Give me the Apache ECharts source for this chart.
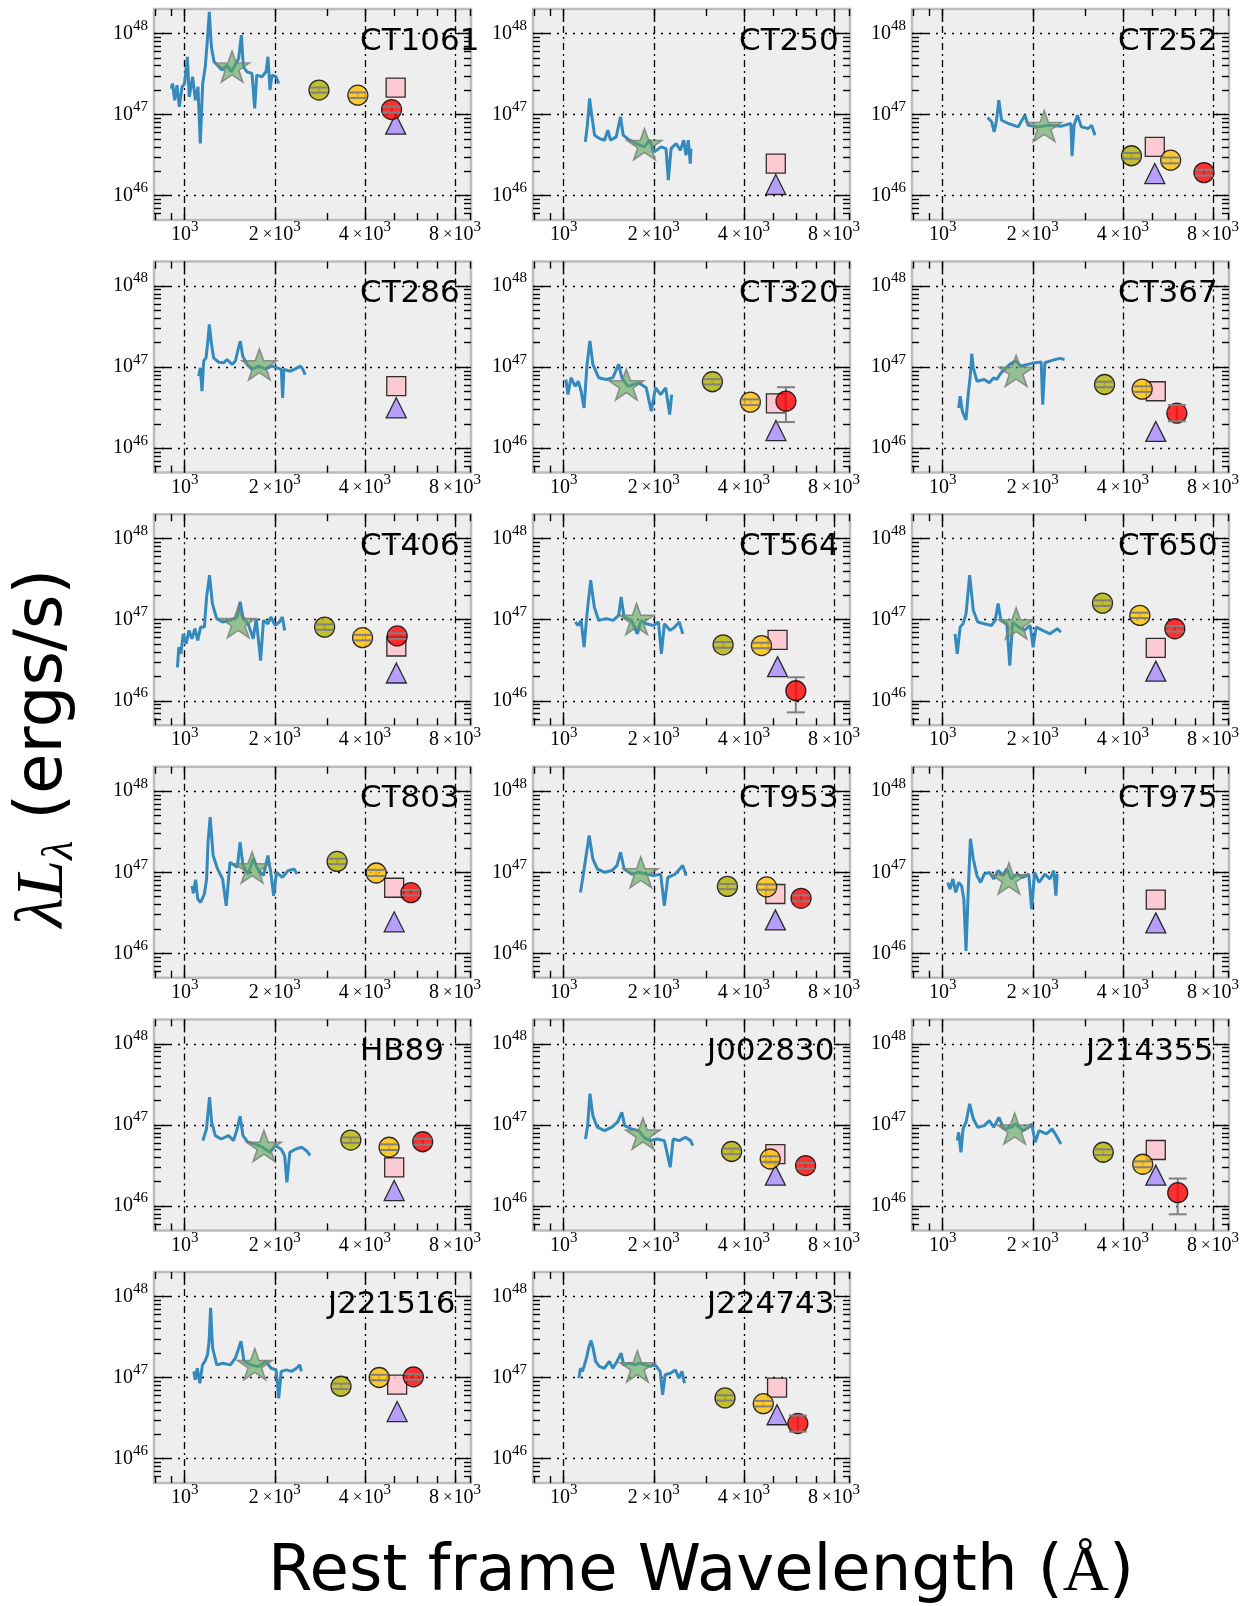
<!DOCTYPE html>
<html>
<head>
<meta charset="utf-8">
<script src="https://cdn.jsdelivr.net/npm/echarts@6/dist/echarts.min.js"></script>
<style>
  html, body { margin: 0; padding: 0; background: #fff; }
  #main { width: 1246px; height: 1606px; }
</style>
</head>
<body>
<div id="main"></div>
<script>
// panel names, in reading order
var names = ['CT1061', 'CT250', 'CT252', 'CT286', 'CT320', 'CT367', 'CT406', 'CT564', 'CT650',
  'CT803', 'CT953', 'CT975', 'HB89', 'J002830', 'J214355', 'J221516', 'J224743'];

// axis ranges and ticks
var xRange = [790, 9050];
var yRange = [5e45, 2e48];
var xMajorTicks = [1000, 2000, 4000, 8000];
var xMinorTicks = [800, 900, 3000, 5000, 6000, 7000, 9000];
var yMajorTicks = [1e46, 1e47, 1e48];
var yMinorTicks = [6e45, 7e45, 8e45, 9e45, 2e46, 3e46, 4e46, 5e46, 6e46, 7e46, 8e46, 9e46,
  2e47, 3e47, 4e47, 5e47, 6e47, 7e47, 8e47, 9e47];

// spectra [wavelength, lambda L_lambda]
var specCT1061 = [[902, 2.09e47], [911, 2.41e47], [926, 1.5e47], [943, 2.3e47], [960, 1.24e47], [980, 2.19e47], [1000, 2.41e47], [1021, 5.15e47], [1036, 1.65e47], [1063, 2.92e47], [1086, 1.5e47], [1108, 2.19e47], [1128, 4.39e46], [1149, 2.41e47], [1172, 3.88e47], [1191, 8.3e47], [1209, 1.85e48], [1228, 6.85e47], [1254, 4.47e47], [1286, 4.06e47], [1333, 3.53e47], [1386, 4.06e47], [1432, 3.36e47], [1485, 4.26e47], [1515, 4.9e47], [1547, 9.5e47], [1571, 3.88e47], [1615, 3.36e47], [1679, 3.2e47], [1714, 1.19e47], [1741, 3.06e47], [1813, 2.92e47], [1870, 3.36e47], [1898, 5.15e47], [1928, 2.0e47], [1958, 3.06e47], [2020, 2.92e47], [2062, 2.41e47]];
var specCT250 = [[1181, 4.6e46], [1199, 7.05e46], [1221, 1.58e47], [1243, 9.36e46], [1269, 5.56e46], [1318, 5.05e46], [1370, 4.82e46], [1405, 6.4e46], [1434, 4.82e46], [1498, 5.3e46], [1549, 9.36e46], [1581, 5.56e46], [1660, 4.82e46], [1746, 4.39e46], [1862, 3.99e46], [1935, 4.82e46], [2010, 3.46e46], [2115, 3.99e46], [2198, 3.8e46], [2237, 1.55e46], [2285, 3.8e46], [2375, 4.39e46], [2454, 3.63e46], [2519, 4.82e46], [2563, 3.15e46], [2609, 4.82e46], [2649, 2.48e46], [2662, 3.8e46]];
var specCT252 = [[1413, 9.18e46], [1457, 8.12e46], [1487, 6.1e46], [1513, 8.5e46], [1541, 1.5e47], [1573, 8.5e46], [1657, 7.74e46], [1789, 7.04e46], [1882, 9.8e46], [1931, 7.38e46], [2085, 7.04e46], [2254, 7.38e46], [2495, 7.18e46], [2681, 7.74e46], [2706, 3.06e46], [2749, 7.38e46], [2820, 9.8e46], [2907, 7.04e46], [3064, 6.71e46], [3146, 7.38e46], [3228, 5.56e46]];
var specCT286 = [[1114, 7.74e46], [1128, 9.8e46], [1143, 5.05e46], [1158, 1.19e47], [1179, 1.3e47], [1197, 2.2e47], [1209, 3.37e47], [1228, 1.99e47], [1250, 1.3e47], [1299, 1.15e47], [1350, 1.13e47], [1386, 1.24e47], [1440, 1.08e47], [1478, 1.19e47], [1508, 1.65e47], [1535, 2.09e47], [1563, 1.37e47], [1616, 1.08e47], [1679, 9.36e46], [1768, 1.03e47], [1859, 9.5e46], [1958, 1.03e47], [2036, 9.8e46], [2104, 9.36e46], [2125, 4.18e46], [2145, 9.36e46], [2257, 8.9e46], [2343, 9.5e46], [2437, 1.03e47], [2478, 9.5e46], [2529, 8.1e46]];
var specCT320 = [[1017, 7.03e46], [1034, 4.58e46], [1058, 7.38e46], [1094, 5.81e46], [1119, 6.7e46], [1144, 5.04e46], [1170, 3.13e46], [1197, 1.08e47], [1224, 2.1e47], [1252, 1.08e47], [1310, 7.38e46], [1388, 7.03e46], [1459, 7.38e46], [1527, 1.08e47], [1565, 7.38e46], [1638, 5.81e46], [1782, 6.4e46], [1888, 5.55e46], [1962, 2.85e46], [2028, 5.55e46], [2109, 4.58e46], [2192, 5.55e46], [2261, 2.6e46], [2296, 4.58e46]];
var specCT367 = [[1132, 3.13e46], [1144, 4.37e46], [1164, 2.85e46], [1197, 2.24e46], [1217, 4.58e46], [1238, 8.1e46], [1251, 1.46e47], [1266, 9.81e46], [1302, 6.7e46], [1377, 7.03e46], [1432, 6.4e46], [1482, 7.38e46], [1516, 7.03e46], [1567, 8.5e46], [1630, 9.8e46], [1676, 1.08e47], [1753, 1.2e47], [1823, 1.03e47], [1927, 1.08e47], [2039, 1.13e47], [2134, 1.16e47], [2159, 3.44e46], [2196, 1.13e47], [2322, 1.21e47], [2458, 1.28e47], [2554, 1.24e47]];
var specCT406 = [[946, 2.59e46], [956, 4.58e46], [972, 3.79e46], [989, 6.7e46], [1011, 5.04e46], [1034, 7.38e46], [1058, 5.81e46], [1082, 7.74e46], [1106, 5.55e46], [1131, 8.12e46], [1164, 8.1e46], [1184, 1.91e47], [1211, 3.55e47], [1238, 1.58e47], [1280, 1.03e47], [1339, 9.36e46], [1417, 9.8e46], [1499, 1.08e47], [1532, 1.66e47], [1566, 1.08e47], [1629, 8.9e46], [1695, 5.81e46], [1734, 1.03e47], [1794, 3.13e46], [1834, 9.8e46], [1897, 8.9e46], [1940, 1.08e47], [2006, 8.5e46], [2074, 9.36e46], [2121, 1.08e47], [2158, 7.38e46]];
var specCT564 = [[1094, 9.36e46], [1119, 8.5e46], [1144, 9.8e46], [1170, 4.58e46], [1197, 1.19e47], [1231, 3.07e47], [1266, 1.43e47], [1310, 9.8e46], [1388, 1.03e47], [1464, 9.8e46], [1527, 1.13e47], [1556, 1.91e47], [1592, 1.08e47], [1686, 9.8e46], [1763, 6.7e46], [1814, 9.8e46], [1888, 8.9e46], [1996, 8.5e46], [2074, 9.36e46], [2121, 3.79e46], [2170, 8.9e46], [2270, 7.38e46], [2350, 8.1e46], [2434, 9.36e46], [2500, 6.7e46]];
var specCT650 = [[1100, 6.7e46], [1119, 3.79e46], [1144, 8.1e46], [1170, 8.9e46], [1197, 1.19e47], [1231, 3.55e47], [1266, 1.3e47], [1310, 9.36e46], [1377, 8.9e46], [1457, 8.5e46], [1498, 9.8e46], [1532, 1.58e47], [1566, 9.8e46], [1639, 8.9e46], [1676, 2.72e46], [1714, 9.36e46], [1794, 8.1e46], [1876, 7.38e46], [1961, 8.5e46], [2006, 4.58e46], [2052, 8.1e46], [2158, 7.38e46], [2283, 6.7e46], [2414, 7.74e46], [2483, 7.03e46]];
var specCT803 = [[1058, 6.84e46], [1070, 5.5e46], [1088, 8.1e46], [1106, 4.68e46], [1131, 4.25e46], [1164, 5.4e46], [1184, 8.27e46], [1197, 2.35e47], [1217, 4.8e47], [1245, 1.61e47], [1288, 1.1e47], [1339, 8.27e46], [1377, 3.86e46], [1417, 1.33e47], [1499, 1.15e47], [1532, 2.35e47], [1566, 1.21e47], [1629, 9.5e46], [1695, 1.46e47], [1753, 1.1e47], [1834, 9.1e46], [1897, 1.61e47], [1940, 1e47], [1983, 5.14e46], [2028, 1e47], [2121, 8.67e46], [2219, 1.05e47], [2321, 1.1e47], [2373, 9.5e46]];
var specCT953 = [[1138, 5.65e46], [1157, 8.27e46], [1184, 1.46e47], [1217, 2.85e47], [1252, 1.46e47], [1295, 1.1e47], [1370, 1e47], [1449, 1.05e47], [1507, 1.21e47], [1549, 1.77e47], [1592, 1.1e47], [1686, 9.5e46], [1782, 1e47], [1888, 9.5e46], [1996, 9.1e46], [2109, 9.5e46], [2170, 3.86e46], [2229, 8.67e46], [2360, 9.5e46], [2500, 1.21e47], [2565, 9.1e46]];
var specCT975 = [[1040, 7.5e46], [1058, 6.2e46], [1082, 8.27e46], [1106, 5.65e46], [1131, 7.5e46], [1157, 6.84e46], [1177, 4.67e46], [1197, 1.07e46], [1217, 5.65e46], [1238, 2.59e47], [1266, 1.46e47], [1302, 9.1e46], [1339, 7.5e46], [1377, 9.5e46], [1432, 1e47], [1482, 8.27e46], [1532, 1.05e47], [1585, 9.1e46], [1639, 1.1e47], [1695, 8.27e46], [1773, 9.5e46], [1855, 8.67e46], [1940, 9.5e46], [1983, 3.5e46], [2028, 1e47], [2099, 7.5e46], [2196, 9.5e46], [2283, 8.27e46], [2350, 1.05e47], [2390, 5.14e46], [2414, 9.5e46]];
var specHB89 = [[1151, 6.4e46], [1164, 7.38e46], [1183, 8.9e46], [1197, 1.43e47], [1211, 2.2e47], [1231, 1.08e47], [1266, 7.38e46], [1324, 6.7e46], [1401, 7.38e46], [1457, 6.4e46], [1498, 8.9e46], [1532, 1.28e47], [1566, 7.38e46], [1629, 6.1e46], [1724, 5.8e46], [1824, 5.3e46], [1929, 4.58e46], [2006, 5.55e46], [2099, 5.04e46], [2158, 4.18e46], [2196, 1.95e46], [2246, 4.58e46], [2350, 5.04e46], [2459, 5.3e46], [2553, 4.8e46], [2627, 4.2e46]];
var specJ002830 = [[1183, 6.7e46], [1203, 9.8e46], [1224, 2.42e47], [1252, 1.3e47], [1295, 9.36e46], [1370, 8.5e46], [1449, 9.36e46], [1514, 1.08e47], [1565, 1.43e47], [1599, 9.8e46], [1686, 8.9e46], [1782, 8.5e46], [1853, 7.03e46], [1937, 6.4e46], [2050, 6.7e46], [2170, 6.4e46], [2270, 3.0e46], [2322, 6.7e46], [2434, 6.4e46], [2551, 7.03e46], [2654, 6.4e46], [2700, 5.55e46]];
var specJ214355 = [[1119, 6.4e46], [1131, 8.1e46], [1151, 4.58e46], [1170, 8.9e46], [1197, 1.08e47], [1231, 1.82e47], [1266, 1.19e47], [1310, 9.36e46], [1377, 9.8e46], [1432, 1.13e47], [1482, 9.36e46], [1541, 1.24e47], [1603, 8.9e46], [1695, 9.36e46], [1753, 1.03e47], [1855, 8.5e46], [1940, 9.36e46], [1983, 1.03e47], [2039, 6.1e46], [2099, 8.5e46], [2222, 7.74e46], [2322, 8.9e46], [2414, 7.03e46], [2483, 5.81e46]];
var specJ221516 = [[1073, 1.19e47], [1085, 9.36e46], [1102, 1.3e47], [1124, 8.5e46], [1147, 1.43e47], [1169, 1.58e47], [1192, 1.91e47], [1207, 2.8e47], [1221, 7.24e47], [1240, 2.31e47], [1280, 1.43e47], [1341, 1.5e47], [1422, 1.43e47], [1478, 1.74e47], [1543, 2.8e47], [1579, 1.58e47], [1662, 1.43e47], [1762, 1.37e47], [1868, 1.58e47], [1944, 1.3e47], [2021, 1.24e47], [2062, 5.54e46], [2101, 1.19e47], [2186, 1.24e47], [2274, 1.19e47], [2364, 1.3e47], [2426, 1.43e47], [2453, 1.19e47]];
var specJ224743 = [[1124, 9.8e46], [1138, 1.3e47], [1156, 1.19e47], [1174, 1.43e47], [1192, 1.74e47], [1216, 2.42e47], [1235, 2.85e47], [1254, 2.31e47], [1279, 1.58e47], [1315, 1.37e47], [1367, 1.3e47], [1422, 1.58e47], [1461, 1.3e47], [1507, 1.58e47], [1556, 2.0e47], [1586, 1.43e47], [1662, 1.5e47], [1728, 1.43e47], [1797, 1.5e47], [1868, 1.43e47], [1944, 1.37e47], [2021, 1.43e47], [2101, 1.19e47], [2141, 6.1e46], [2183, 1.08e47], [2273, 1.13e47], [2362, 1.24e47], [2427, 9.8e46], [2485, 1.19e47], [2533, 8.5e46]];

var spectra = [specCT1061, specCT250, specCT252, specCT286, specCT320, specCT367, specCT406, specCT564, specCT650,
  specCT803, specCT953, specCT975, specHB89, specJ002830, specJ214355, specJ221516, specJ224743];

// star markers [wavelength, value]
var stars = [[1440, 3.9e47], [1862, 4.3e46], [2184, 7.2e46], [1777, 1.08e47], [1620, 6.1e46], [1760, 9e46],
  [1510, 9.3e46], [1753, 1.02e47], [1760, 9e46], [1680, 1.15e47], [1810, 1.0e47], [1665, 8.4e46],
  [1840, 5.5e46], [1840, 7.8e46], [1740, 9e46], [1715, 1.46e47], [1763, 1.37e47]];

// circles [wavelength, value, errLow, errHigh]; null = not present
var oliveDots = [[2810, 2.0e47, 1.86e47, 2.15e47], null, [4274, 3.1e46, 2.85e46, 3.35e46], null,
  [3140, 6.6e46, 6.1e46, 7.1e46], [3475, 6.1e46, 5.65e46, 6.6e46], [2935, 8.1e46, 7.5e46, 8.75e46],
  [3410, 4.9e46, 4.5e46, 5.3e46], [3420, 1.6e47, 1.48e47, 1.73e47], [3230, 1.36e47, 1.26e47, 1.47e47],
  [3525, 6.7e46, 6.2e46, 7.2e46], null, [3590, 6.5e46, 6.0e46, 7.0e46], [3640, 4.7e46, 4.35e46, 5.1e46],
  [3440, 4.6e46, 4.25e46, 5.0e46], [3330, 7.8e46, 7.2e46, 8.4e46], [3460, 5.6e46, 5.2e46, 6.05e46]];
var amberDots = [[3790, 1.73e47, 1.6e47, 1.87e47], null, [5777, 2.73e46, 2.5e46, 2.95e46], null,
  [4205, 3.7e46, 3.4e46, 4.0e46], [4640, 5.35e46, 4.95e46, 5.8e46], [3930, 6.0e46, 5.55e46, 6.5e46],
  [4580, 4.8e46, 4.45e46, 5.2e46], [4559, 1.13e47, 1.05e47, 1.22e47], [4365, 9.8e46, 9.0e46, 1.07e47],
  [4766, 6.6e46, 6.1e46, 7.1e46], null, [4819, 5.3e46, 4.9e46, 5.75e46], [4898, 3.8e46, 3.5e46, 4.1e46],
  [4660, 3.27e46, 3.0e46, 3.55e46], [4467, 1.0e47, 9.25e46, 1.08e47], [4645, 4.75e46, 4.4e46, 5.15e46]];
var redDots = [[4913, 1.15e47, 1.06e47, 1.25e47], null, [7465, 1.92e46, 1.77e46, 2.08e46], null,
  [5530, 3.8e46, 2.1e46, 5.65e46], [6060, 2.7e46, 2.15e46, 3.4e46], [5130, 6.3e46, 5.8e46, 6.8e46],
  [5966, 1.33e46, 7.2e45, 1.95e46], [5966, 7.73e46, 7.15e46, 8.35e46], [5700, 5.6e46, 5.2e46, 6.05e46],
  [6210, 4.78e46, 4.4e46, 5.2e46], null, [6240, 6.2e46, 5.7e46, 6.7e46], [6430, 3.15e46, 2.9e46, 3.4e46],
  [6100, 1.46e46, 7.9e45, 2.18e46], [5810, 1.02e47, 9.4e46, 1.1e47], [6060, 2.71e46, 2.15e46, 3.4e46]];

// square and triangle markers [wavelength, value]
var squares = [[5070, 2.15e47], [5114, 2.48e46], [5114, 3.98e46], [5093, 5.82e46], [5120, 3.58e46], [5153, 5.04e46],
  [5096, 4.67e46], [5184, 5.65e46], [5153, 4.5e46], [5012, 6.45e46], [5096, 5.4e46], [5153, 4.6e46],
  [5012, 2.99e46], [5096, 4.36e46], [5153, 4.9e46], [5128, 8.15e46], [5164, 7.5e46]];
var triangles = [[5070, 7.6e46], [5114, 1.37e46], [5114, 1.87e46], [5093, 3.15e46], [5120, 1.65e46], [5153, 1.61e46],
  [5096, 2.2e46], [5184, 2.64e46], [5153, 2.32e46], [5012, 2.45e46], [5096, 2.59e46], [5153, 2.38e46],
  [5012, 1.55e46], [5096, 2.4e46], [5153, 2.4e46], [5128, 3.8e46], [5164, 3.47e46]];

var starPath = 'path://M50,0 L61.8,35.4 L99,35.4 L68.9,57.3 L80.3,92.7 L50,70.8 L19.7,92.7 L31.1,57.3 L1,35.4 L38.2,35.4 Z';
var serif = '"Liberation Serif", "DejaVu Serif", serif';

var chart = echarts.init(document.getElementById('main'));

var labelRich = {
  b: { fontFamily: serif, fontSize: 20, color: '#000', lineHeight: 30 },
  t: { fontFamily: serif, fontSize: 17, color: '#000', lineHeight: 30, padding: [0, 1, 0, 4] },
  s: { fontFamily: serif, fontSize: 15, color: '#000', lineHeight: 14, verticalAlign: 'top' }
};

function panelBox(i) {
  var c = i % 3, r = Math.floor(i / 3);
  return { left: 154 + 379 * c, top: 9 + 252.6 * r, width: 317, height: 211 };
}

function makeAxis(dim, pos, gi, ticks, len, labels) {
  var isX = dim === 'x';
  var ax = {
    type: 'log', logBase: 10, gridIndex: gi, position: pos,
    min: isX ? xRange[0] : yRange[0],
    max: isX ? xRange[1] : yRange[1],
    axisLine: { show: false, onZero: false },
    splitLine: { show: false },
    axisTick: { show: true, inside: true, length: len, customValues: ticks,
      lineStyle: { color: '#000', width: 1.4 } },
    axisLabel: { show: false }
  };
  if (labels) {
    ax.axisLabel = {
      show: true, customValues: ticks, margin: isX ? 0 : 6, rich: labelRich,
      formatter: function (v) {
        if (isX) {
          var m = Math.round(v / 1000);
          return m === 1 ? '{b|10}{s|3}' : '{b|' + m + '}{t|×}{b|10}{s|3}';
        }
        return '{b|10}{s|' + Math.round(Math.log10(v)) + '}';
      }
    };
  }
  return ax;
}

var grids = [], xAxes = [], yAxes = [], series = [], graphics = [];

names.forEach(function (name, i) {
  var b = panelBox(i);
  grids.push({ left: b.left, top: b.top, width: b.width, height: b.height, show: true,
    backgroundColor: '#eeeeee', borderColor: '#bcbcbc', borderWidth: 2.5 });

  xAxes.push(makeAxis('x', 'bottom', i, xMajorTicks, 12, true));
  xAxes.push(makeAxis('x', 'bottom', i, xMinorTicks, 7, false));
  xAxes.push(makeAxis('x', 'top', i, xMajorTicks, 12, false));
  xAxes.push(makeAxis('x', 'top', i, xMinorTicks, 7, false));
  yAxes.push(makeAxis('y', 'left', i, yMajorTicks, 16, true));
  yAxes.push(makeAxis('y', 'left', i, yMinorTicks, 7, false));
  yAxes.push(makeAxis('y', 'right', i, yMajorTicks, 16, false));
  yAxes.push(makeAxis('y', 'right', i, yMinorTicks, 7, false));

  var xi = 4 * i, yi = 4 * i;
  var gridLines = [];
  xMajorTicks.forEach(function (v) {
    gridLines.push({ xAxis: v, lineStyle: { type: [7, 4, 2, 4], color: '#000', width: 1.3 } });
  });
  yMajorTicks.forEach(function (v) {
    gridLines.push({ yAxis: v, lineStyle: { type: [2, 6], color: '#000', width: 1.3 } });
  });

  series.push({
    type: 'line', xAxisIndex: xi, yAxisIndex: yi, data: spectra[i], showSymbol: false, z: 2,
    lineStyle: { color: '#348ABD', width: 3 }, clip: true, silent: true,
    markLine: { silent: true, symbol: 'none', z: 1, animation: false, label: { show: false },
      emphasis: { disabled: true }, data: gridLines }
  });

  series.push({
    type: 'scatter', xAxisIndex: xi, yAxisIndex: yi, data: [stars[i]], z: 3, silent: true,
    symbol: starPath, symbolSize: [35, 33], symbolKeepAspect: true,
    itemStyle: { color: 'rgba(96,168,92,0.8)', borderColor: '#7a7a7a', borderWidth: 1.5 }
  });
  series.push({
    type: 'scatter', xAxisIndex: xi, yAxisIndex: yi, data: [squares[i]], z: 4, silent: true,
    symbol: 'rect', symbolSize: 19,
    itemStyle: { color: '#ffc0cb', borderColor: '#000', borderWidth: 1.3 }
  });
  series.push({
    type: 'scatter', xAxisIndex: xi, yAxisIndex: yi, data: [triangles[i]], z: 4, silent: true,
    symbol: 'triangle', symbolSize: 20,
    itemStyle: { color: '#a78bfa', borderColor: '#000', borderWidth: 1.3 }
  });

  var dots = [[oliveDots[i], '#b5b300'], [amberDots[i], '#ffbf00'], [redDots[i], '#ff0000']];
  dots.forEach(function (d) {
    if (!d[0]) return;
    var pt = d[0];
    series.push({
      type: 'custom', xAxisIndex: xi, yAxisIndex: yi, data: [pt], z: 5, silent: true,
      renderItem: function (params, api) {
        var p1 = api.coord([api.value(0), api.value(2)]);
        var p2 = api.coord([api.value(0), api.value(3)]);
        return { type: 'line', shape: { x1: p1[0], y1: p1[1], x2: p2[0], y2: p2[1] },
          style: { stroke: '#808080', lineWidth: 2 } };
      }
    });
    series.push({
      type: 'scatter', xAxisIndex: xi, yAxisIndex: yi, data: [[pt[0], pt[1]]], z: 6, silent: true,
      symbol: 'circle', symbolSize: 20,
      itemStyle: { color: d[1], borderColor: '#000', borderWidth: 1.3 }
    });
    series.push({
      type: 'custom', xAxisIndex: xi, yAxisIndex: yi, data: [pt], z: 7, silent: true,
      renderItem: function (params, api) {
        var p1 = api.coord([api.value(0), api.value(2)]);
        var p2 = api.coord([api.value(0), api.value(3)]);
        var st = { stroke: '#808080', lineWidth: 2 };
        return { type: 'group', children: [
          { type: 'line', shape: { x1: p1[0] - 9, y1: p1[1], x2: p1[0] + 9, y2: p1[1] }, style: st },
          { type: 'line', shape: { x1: p2[0] - 9, y1: p2[1], x2: p2[0] + 9, y2: p2[1] }, style: st }
        ] };
      }
    });
  });

  graphics.push({
    type: 'text', x: b.left + (name.charAt(0) === 'J' ? 174 : 206), y: b.top + 17, silent: true,
    style: { text: name, font: '31px "DejaVu Sans"', fill: '#000',
      textAlign: 'left', textVerticalAlign: 'top', align: 'left', verticalAlign: 'top' }
  });
});

// axis titles
graphics.push({
  type: 'text', x: 701, y: 1573, silent: true,
  style: {
    text: '{a|Rest frame Wavelength (}{b|Å}{a|)}',
    align: 'center', verticalAlign: 'middle', textAlign: 'center', textVerticalAlign: 'middle',
    rich: {
      a: { fontFamily: '"DejaVu Sans"', fontSize: 64, color: '#000' },
      b: { fontFamily: serif, fontSize: 64, color: '#000' }
    }
  }
});
graphics.push({
  type: 'text', x: 44, y: 748, rotation: Math.PI / 2, silent: true,
  style: {
    text: '{m|λL}{s|λ}{a| (ergs/s)}',
    align: 'center', verticalAlign: 'middle', textAlign: 'center', textVerticalAlign: 'middle',
    rich: {
      m: { fontFamily: serif, fontStyle: 'italic', fontSize: 68, color: '#000', lineHeight: 76 },
      s: { fontFamily: serif, fontStyle: 'italic', fontSize: 44, color: '#000', lineHeight: 46, verticalAlign: 'bottom' },
      a: { fontFamily: '"DejaVu Sans"', fontSize: 66, color: '#000', lineHeight: 76 }
    }
  }
});

chart.setOption({
  animation: false,
  backgroundColor: '#ffffff',
  grid: grids,
  xAxis: xAxes,
  yAxis: yAxes,
  series: series,
  graphic: graphics
});
</script>
</body>
</html>
